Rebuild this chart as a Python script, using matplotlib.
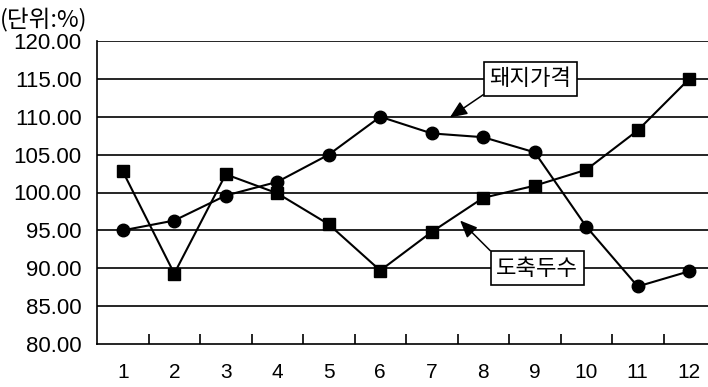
import matplotlib.pyplot as plt
import numpy as np

plt.rcParams['font.family'] = ['Liberation Sans', 'Noto Sans CJK KR', 'DejaVu Sans']

# data
months = ['1', '2', '3', '4', '5', '6', '7', '8', '9', '10', '11', '12']
pig_price = [95.0, 96.3, 99.6, 101.4, 105.0, 110.0, 107.8, 107.3, 105.3, 95.5, 87.6, 89.6]
slaughter = [102.8, 89.3, 102.4, 99.9, 95.8, 89.7, 94.8, 99.3, 100.9, 103.0, 108.2, 115.0]
yticks = [80, 85, 90, 95, 100, 105, 110, 115, 120]

fig = plt.figure(figsize=(7.08, 3.87), dpi=100)
ax = fig.add_axes([97/708, 1-344/387, 618/708, (344-41)/387])

x = np.arange(len(months))
ax.plot(x, pig_price, color='black', lw=1.5, marker='o', ms=9, zorder=3)
ax.plot(x, slaughter, color='black', lw=1.5, marker='s', ms=8, zorder=3)

ax.set_xlim(-0.5, len(months)-0.5)
ax.set_ylim(80, 120)
ax.set_yticks(yticks)
ax.set_yticklabels(['%.2f' % v for v in yticks], fontsize=16)
for v in yticks[1:]:
    ax.axhline(v, color='black', lw=1.2, zorder=1)

ax.set_xticks(x)
ax.set_xticklabels(months, fontsize=15, family=['Liberation Sans Narrow', 'Liberation Sans'])
ax.tick_params(axis='x', length=0, pad=14)
ax.tick_params(axis='y', length=0, pad=11)
# small ticks between categories
ax.set_xticks(np.arange(0.5, len(months)-0.5, 1), minor=True)
ax.tick_params(axis='x', which='minor', direction='in', length=7, width=1.2)

for s in ['top', 'right']:
    ax.spines[s].set_visible(False)
ax.spines['left'].set_linewidth(1.2)
ax.spines['bottom'].set_linewidth(1.2)

fig.text(0/708, 1-20/387, '(단위:%)', fontsize=17, va='center', ha='left',
         family=['Noto Sans CJK KR', 'DejaVu Sans'])

box = dict(boxstyle='square,pad=0.25', fc='white', ec='black', lw=1.2)
arrow = dict(arrowstyle='-|>,head_length=0.7,head_width=0.3', color='black', lw=1.1,
             shrinkA=0, shrinkB=0, mutation_scale=15)
ax.annotate('돼지가격', xy=(6.35, 109.9), xytext=(7.92, 115.0), fontsize=16,
            family=['Noto Sans CJK KR', 'DejaVu Sans'], va='center', ha='center', bbox=box,
            arrowprops=dict(arrow, relpos=(0, 0)), zorder=5)
ax.annotate('도축두수', xy=(6.55, 96.3), xytext=(8.05, 90.0), fontsize=16,
            family=['Noto Sans CJK KR', 'DejaVu Sans'], va='center', ha='center', bbox=box,
            arrowprops=dict(arrow, relpos=(0, 1)), zorder=5)

fig.savefig('out.png', dpi=100)
